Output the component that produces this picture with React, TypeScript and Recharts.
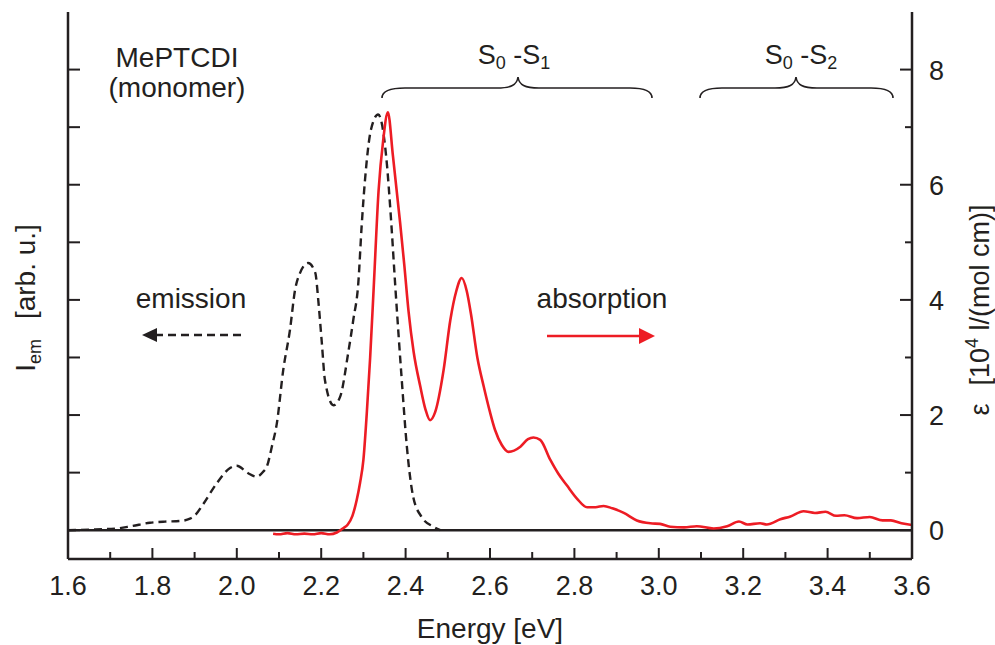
import React from 'react';
import { LineChart, Line, XAxis, YAxis, ReferenceLine } from 'recharts';

const emissionEnergy = [1.6, 1.65, 1.715, 1.75, 1.794, 1.83, 1.866, 1.889, 1.901, 1.921, 1.952, 1.984, 2.0, 2.027, 2.047, 2.063, 2.071, 2.083, 2.095, 2.11, 2.126, 2.138, 2.15, 2.169, 2.186, 2.193, 2.201, 2.209, 2.229, 2.245, 2.264, 2.276, 2.288, 2.296, 2.304, 2.318, 2.335, 2.354, 2.366, 2.375, 2.391, 2.403, 2.418, 2.438, 2.466, 2.482];
const emissionIntensity = [0.0, 0.01, 0.03, 0.07, 0.13, 0.15, 0.16, 0.2, 0.26, 0.46, 0.81, 1.08, 1.12, 0.99, 0.93, 1.02, 1.1, 1.45, 1.86, 2.78, 3.48, 4.17, 4.47, 4.64, 4.47, 4.0, 3.3, 2.6, 2.17, 2.32, 3.08, 3.65, 4.3, 5.3, 6.1, 6.96, 7.22, 6.49, 5.34, 4.3, 2.6, 1.45, 0.58, 0.23, 0.06, 0.0];

const absorptionEnergy = [2.086, 2.1, 2.12, 2.14, 2.16, 2.18, 2.2, 2.22, 2.237, 2.253, 2.263, 2.274, 2.284, 2.292, 2.3, 2.308, 2.316, 2.325, 2.336, 2.347, 2.358, 2.37, 2.387, 2.397, 2.407, 2.419, 2.435, 2.447, 2.458, 2.47, 2.49, 2.506, 2.52, 2.533, 2.545, 2.555, 2.57, 2.585, 2.6, 2.612, 2.628, 2.644, 2.672, 2.69, 2.703, 2.719, 2.743, 2.762, 2.782, 2.806, 2.83, 2.85, 2.869, 2.89, 2.917, 2.948, 2.98, 3.003, 3.027, 3.06, 3.09, 3.13, 3.162, 3.19, 3.21, 3.24, 3.256, 3.288, 3.312, 3.343, 3.37, 3.395, 3.42, 3.44, 3.47, 3.5, 3.53, 3.55, 3.575, 3.6];
const absorptionEpsilon = [-0.06, -0.07, -0.05, -0.07, -0.06, -0.07, -0.05, -0.07, -0.04, 0.04, 0.1, 0.25, 0.52, 0.82, 1.22, 2.03, 3.0, 4.3, 5.9, 6.78, 7.26, 6.5, 5.34, 4.6, 3.8, 3.1, 2.49, 2.1, 1.91, 2.05, 2.78, 3.65, 4.15, 4.38, 4.15, 3.75, 3.0, 2.5, 2.05, 1.74, 1.48, 1.36, 1.45, 1.58, 1.61, 1.57, 1.22, 0.98, 0.78, 0.55, 0.4, 0.4, 0.42, 0.38, 0.3, 0.17, 0.12, 0.11, 0.06, 0.05, 0.07, 0.03, 0.07, 0.15, 0.1, 0.12, 0.1, 0.19, 0.24, 0.33, 0.3, 0.32, 0.25, 0.26, 0.21, 0.23, 0.17, 0.17, 0.12, 0.09];

const energyTicks = [1.6, 1.7, 1.8, 1.9, 2.0, 2.1, 2.2, 2.3, 2.4, 2.5, 2.6, 2.7, 2.8, 2.9, 3.0, 3.1, 3.2, 3.3, 3.4, 3.5, 3.6];
const epsilonTicks = [0, 1, 2, 3, 4, 5, 6, 7, 8];

const emissionData = emissionEnergy.map((e, i) => ({ e, v: emissionIntensity[i] }));
const absorptionData = absorptionEnergy.map((e, i) => ({ e, v: absorptionEpsilon[i] }));

const FONT = '"Liberation Sans", Arial, Helvetica, sans-serif';
const INK = '#231f20';
const RED = '#ed1c24';

const isMajorX = (v: number) => Math.round(v * 10) % 2 === 0;

const BottomTick = (props: any) => {
  const { x, y, payload } = props;
  const major = isMajorX(payload.value);
  return (
    <g>
      <line x1={x} x2={x} y1={y} y2={y - (major ? 11 : 7)} stroke={INK} strokeWidth={2} />
      {major && (
        <text x={x} y={y + 36} textAnchor="middle" fontFamily={FONT} fontSize={27} fill={INK}>
          {payload.value.toFixed(1)}
        </text>
      )}
    </g>
  );
};

const TopTick = (props: any) => {
  const { x, y, payload } = props;
  const major = isMajorX(payload.value);
  return <line x1={x} x2={x} y1={y} y2={y + (major ? 11 : 7)} stroke={INK} strokeWidth={2} />;
};

const LeftTick = (props: any) => {
  const { x, y } = props;
  return <line x1={x} x2={x + 12} y1={y} y2={y} stroke={INK} strokeWidth={2} />;
};

const RightTick = (props: any) => {
  const { x, y, payload } = props;
  const major = payload.value % 2 === 0;
  return (
    <g>
      <line x1={x} x2={x - (major ? 12 : 7)} y1={y} y2={y} stroke={INK} strokeWidth={2} />
      {major && (
        <text x={x + 17} y={y + 10} textAnchor="start" fontFamily={FONT} fontSize={27} fill={INK}>
          {payload.value}
        </text>
      )}
    </g>
  );
};

const axisLineStyle = { stroke: INK, strokeWidth: 2.5 };

export default function App() {
  return (
    <div style={{ position: 'absolute', left: 0, top: 0, width: 995, height: 645, background: '#fff' }}>
      <LineChart width={995} height={645} margin={{ top: 12, right: 23, bottom: 26, left: 8 }}>
        <XAxis
          xAxisId="b"
          dataKey="e"
          type="number"
          domain={[1.6, 3.6]}
          ticks={energyTicks}
          interval={0}
          allowDataOverflow
          height={60}
          tickSize={0}
          tickMargin={0}
          tickLine={false}
          axisLine={axisLineStyle}
          tick={<BottomTick />}
        />
        <XAxis
          xAxisId="t"
          orientation="top"
          dataKey="e"
          type="number"
          domain={[1.6, 3.6]}
          ticks={energyTicks}
          interval={0}
          allowDataOverflow
          height={0}
          tickSize={0}
          tickMargin={0}
          tickLine={false}
          axisLine={axisLineStyle}
          tick={<TopTick />}
        />
        <YAxis
          yAxisId="left"
          type="number"
          domain={[-0.5, 9]}
          ticks={epsilonTicks}
          interval={0}
          allowDataOverflow
          width={60}
          tickSize={0}
          tickMargin={0}
          tickLine={false}
          axisLine={axisLineStyle}
          tick={<LeftTick />}
        />
        <YAxis
          yAxisId="right"
          orientation="right"
          type="number"
          domain={[-0.5, 9]}
          ticks={epsilonTicks}
          interval={0}
          allowDataOverflow
          width={60}
          tickSize={0}
          tickMargin={0}
          tickLine={false}
          axisLine={axisLineStyle}
          tick={<RightTick />}
        />
        <ReferenceLine xAxisId="b" yAxisId="right" y={0} stroke={INK} strokeWidth={2.5} />
        <Line
          xAxisId="b"
          yAxisId="left"
          data={emissionData}
          dataKey="v"
          type="monotone"
          stroke={INK}
          strokeWidth={2.4}
          strokeDasharray="8 5"
          dot={false}
          activeDot={false}
          isAnimationActive={false}
        />
        <Line
          xAxisId="b"
          yAxisId="right"
          data={absorptionData}
          dataKey="v"
          type="monotone"
          stroke={RED}
          strokeWidth={2.6}
          dot={false}
          activeDot={false}
          isAnimationActive={false}
        />
      </LineChart>
      <svg
        width={995}
        height={645}
        style={{ position: 'absolute', left: 0, top: 0, pointerEvents: 'none' }}
        fontFamily={FONT}
      >
        <text x={177} y={67} textAnchor="middle" fontSize={28} fill={INK}>MePTCDI</text>
        <text x={177} y={97} textAnchor="middle" fontSize={28} fill={INK}>(monomer)</text>

        <text x={514} y={64} textAnchor="middle" fontSize={27} fill={INK}>
          S<tspan fontSize={18} dy={5}>0</tspan>
          <tspan dy={-5}> -S</tspan>
          <tspan fontSize={18} dy={5}>1</tspan>
        </text>
        <text x={801} y={64} textAnchor="middle" fontSize={27} fill={INK}>
          S<tspan fontSize={18} dy={5}>0</tspan>
          <tspan dy={-5}> -S</tspan>
          <tspan fontSize={18} dy={5}>2</tspan>
        </text>

        <path
          d="M 382 98 C 382 91, 389 88, 405 88 L 497 88 C 511 88, 517 85, 518 77 C 519 85, 525 88, 539 88 L 630 88 C 645 88, 652 91, 652 98"
          fill="none"
          stroke={INK}
          strokeWidth={1.6}
        />
        <path
          d="M 700 98 C 700 91, 707 88, 722 88 L 775 88 C 789 88, 795 85, 796 77 C 797 85, 803 88, 817 88 L 871 88 C 886 88, 893 91, 893 98"
          fill="none"
          stroke={INK}
          strokeWidth={1.6}
        />

        <text x={191} y={308} textAnchor="middle" fontSize={28} fill={INK}>emission</text>
        <line x1={241} x2={156} y1={335} y2={335} stroke={INK} strokeWidth={2.4} strokeDasharray="8 5" />
        <polygon points="142,335 157,328 157,342" fill={INK} />

        <text x={602} y={308} textAnchor="middle" fontSize={28} fill={INK}>absorption</text>
        <line x1={547} x2={640} y1={336} y2={336} stroke={RED} strokeWidth={2.4} />
        <polygon points="655,336 639,328 639,344" fill={RED} />

        <text x={490} y={638} textAnchor="middle" fontSize={28} fill={INK}>Energy [eV]</text>

        <g transform="translate(35,298) rotate(-90)">
          <text x={0} y={0} textAnchor="middle" fontSize={28} fill={INK}>
            I<tspan fontSize={18} dy={6}>em</tspan>
            <tspan dy={-6} dx={20}>[arb. u.]</tspan>
          </text>
        </g>

        <g transform="translate(989,310) rotate(-90)">
          <text x={0} y={0} textAnchor="middle" fontSize={27} fill={INK}>
            ε<tspan dx={18}>[10</tspan>
            <tspan fontSize={18} dy={-11}>4</tspan>
            <tspan dy={11}> l/(mol cm)]</tspan>
          </text>
        </g>
      </svg>
    </div>
  );
}
